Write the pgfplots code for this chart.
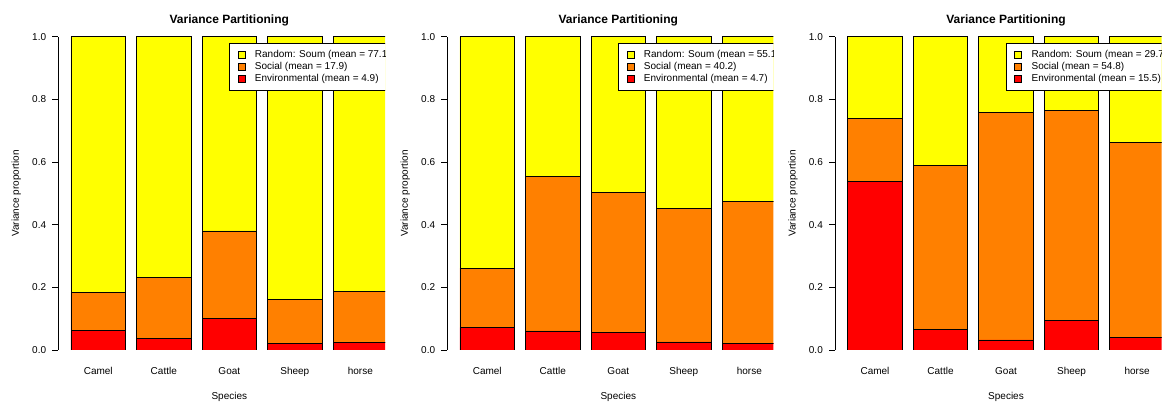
\documentclass[border=0pt]{standalone}
\usepackage{fontspec}
\setmainfont{Liberation Sans}
\usepackage{pgfplots}
\usepackage{pgfplotstable}
\pgfplotsset{compat=1.18}

\definecolor{heatred}{HTML}{FF0000}
\definecolor{heatorange}{HTML}{FF8000}
\definecolor{heatyellow}{HTML}{FFFF00}

% variance proportions per species: environmental, social, random (Soum)
\pgfplotstableread{
x   env   soc   rnd
0.7 0.063 0.121 0.816
1.9 0.036 0.196 0.768
3.1 0.101 0.279 0.620
4.3 0.021 0.141 0.838
5.5 0.025 0.161 0.814
}\tblA
\pgfplotstableread{
x   env   soc   rnd
0.7 0.072 0.189 0.739
1.9 0.061 0.494 0.445
3.1 0.055 0.447 0.498
4.3 0.026 0.426 0.548
5.5 0.022 0.451 0.527
}\tblB
\pgfplotstableread{
x   env   soc   rnd
0.7 0.537 0.202 0.261
1.9 0.067 0.522 0.411
3.1 0.032 0.725 0.243
4.3 0.095 0.671 0.234
5.5 0.040 0.623 0.337
}\tblC

\pgfplotsset{
  sqlegend/.style={legend image code/.code={%
      \draw[##1, line width=0.6pt] (0pt,-3.5pt) rectangle (7pt,3.5pt);
      \path (16.7pt,0pt);}},
  seg/.style={draw=black, line width=0.7pt, fill=#1, sqlegend},
  vpaxis/.style={
    ybar stacked, bar width=1,
    x=54.6pt, y=313.3pt,
    anchor=south west,
    xmin=-0.032, xmax=6.232, ymin=0, ymax=1,
    enlargelimits=false,
    axis y line*=left, axis x line*=bottom,
    x axis line style={draw=none},
    axis line style={line width=0.8pt, black},
    xtick={0.7,1.9,3.1,4.3,5.5},
    xticklabels={Camel,Cattle,Goat,Sheep,horse},
    xtick style={draw=none},
    ytick={0,0.2,0.4,0.6,0.8,1},
    yticklabel={\pgfmathprintnumber[fixed,fixed zerofill,precision=1,assume math mode=true]{\tick}},
    tick align=outside, major tick length=6pt,
    ytick style={line width=0.8pt, black},
    tick label style={font=\fontsize{10}{12}\selectfont},
    xticklabel style={anchor=center, text height=7.2pt, text depth=2pt, yshift=-16pt},
    yticklabel style={anchor=east, inner xsep=0pt, xshift=-6pt},
    title={Variance Partitioning},
    title style={font=\bfseries\fontsize{12}{14}\selectfont,
      at={(axis description cs:0.5,1)}, anchor=center, yshift=10pt},
    xlabel={Species},
    xlabel style={font=\fontsize{10}{12}\selectfont,
      at={(axis description cs:0.5,0)}, anchor=center, yshift=-47pt},
    ylabel={Variance proportion},
    ylabel style={font=\fontsize{10}{12}\selectfont,
      at={([xshift=-42pt]axis description cs:0,0.5)}, anchor=center},
    reverse legend,
    legend cell align=left,
    legend style={at={(0.5,0.98)}, anchor=north west, draw=black,
      line width=0.6pt, fill=white, font=\fontsize{10}{12}\selectfont,
      inner xsep=8pt, inner ysep=6.5pt, row sep=2pt,
      nodes={inner sep=0pt, text height=7.5pt, text depth=2.5pt, anchor=west}},
  }
}

% one panel: table, axis x position, clip left, clip right, three means
\newcommand{\vppanel}[7]{%
  \begin{scope}
    \clip (#3pt,0pt) rectangle (#4pt,403pt);
    \begin{axis}[vpaxis, at={(#2pt,53pt)}]
      \addplot[seg=heatred]    table[x=x, y=env] {#1};
      \addlegendentry{Environmental (mean = #7)}
      \addplot[seg=heatorange] table[x=x, y=soc] {#1};
      \addlegendentry{Social (mean = #6)}
      \addplot[seg=heatyellow] table[x=x, y=rnd] {#1};
      \addlegendentry{Random: Soum (mean = #5)}
    \end{axis}
  \end{scope}}

\begin{document}
\begin{tikzpicture}
  \useasboundingbox (0pt,0pt) rectangle (1166pt,403pt);
  \vppanel{\tblA}{58.3}{0}{385}{77.1}{17.9}{4.9}
  \vppanel{\tblB}{447.3}{387}{773.3}{55.1}{40.2}{4.7}
  \vppanel{\tblC}{835}{776}{1161.7}{29.7}{54.8}{15.5}
\end{tikzpicture}
\end{document}
